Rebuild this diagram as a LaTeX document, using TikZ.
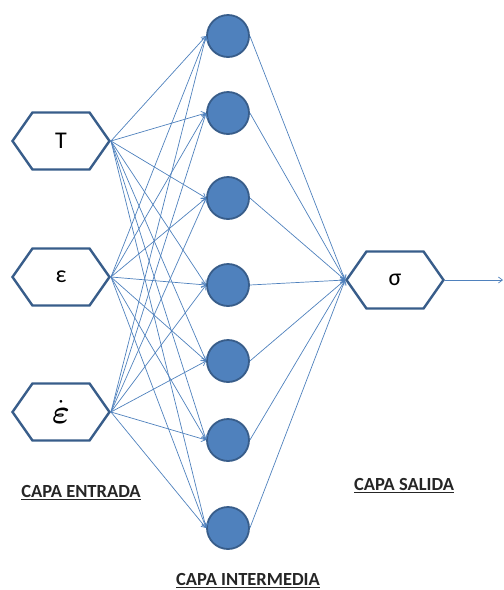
\documentclass[tikz,border=0pt]{standalone}
\usepackage{amsmath}
\usepackage{graphicx}
\usepackage{fontspec}
\setmainfont{Carlito}
\usetikzlibrary{shapes.symbols, arrows.meta}

\definecolor{netblue}{RGB}{79,129,189}
\definecolor{netedge}{RGB}{56,93,138}

\begin{document}
\begin{tikzpicture}[
    x=1pt, y=-1pt,
    hexa/.style={signal, signal to=west and east, signal pointer angle=110,
                 draw=netedge, line width=2.4pt, fill=white,
                 minimum width=97pt, minimum height=57pt, inner sep=0pt,
                 font=\fontsize{24}{28}\selectfont},
    neuron/.style={circle, draw=netedge, line width=1.8pt, fill=netblue,
                   minimum size=42pt, inner sep=0pt},
    link/.style={-{Straight Barb[length=4pt,width=6pt]}, netblue, line width=0.7pt},
    layer/.style={font=\fontsize{18.5}{22}\selectfont\bfseries, text=black!85}
  ]
    \useasboundingbox (0,0) rectangle (504,590);

    \node[hexa] (in1) at (61,141) {T};
    \node[hexa] (in2) at (61,277) {ε};
    \node[hexa] (in3) at (61,412) {\scalebox{1.35}{$\dot{\boldsymbol{\varepsilon}}$}};

    \foreach \n/\y in {1/36, 2/113, 3/198, 4/285, 5/361, 6/440, 7/528}
      \node[neuron] (h\n) at (228,\y) {};

    \node[hexa] (out) at (395,280) {σ};
    \coordinate (res) at (503,280);

    \foreach \i in {1,2,3}
      \foreach \n in {1,...,7}
        \draw[link] (in\i.east) -- (h\n.west);
    \foreach \n in {1,...,7}
      \draw[link] (h\n.east) -- (out.west);
    \draw[link] (out.east) -- (res);

    \node[layer] (lin)  at (81,493)  {\underline{CAPA ENTRADA}};
    \node[layer] (lmid) at (248,581) {\underline{CAPA INTERMEDIA}};
    \node[layer] (lout) at (404,486) {\underline{CAPA SALIDA}};
\end{tikzpicture}
\end{document}
